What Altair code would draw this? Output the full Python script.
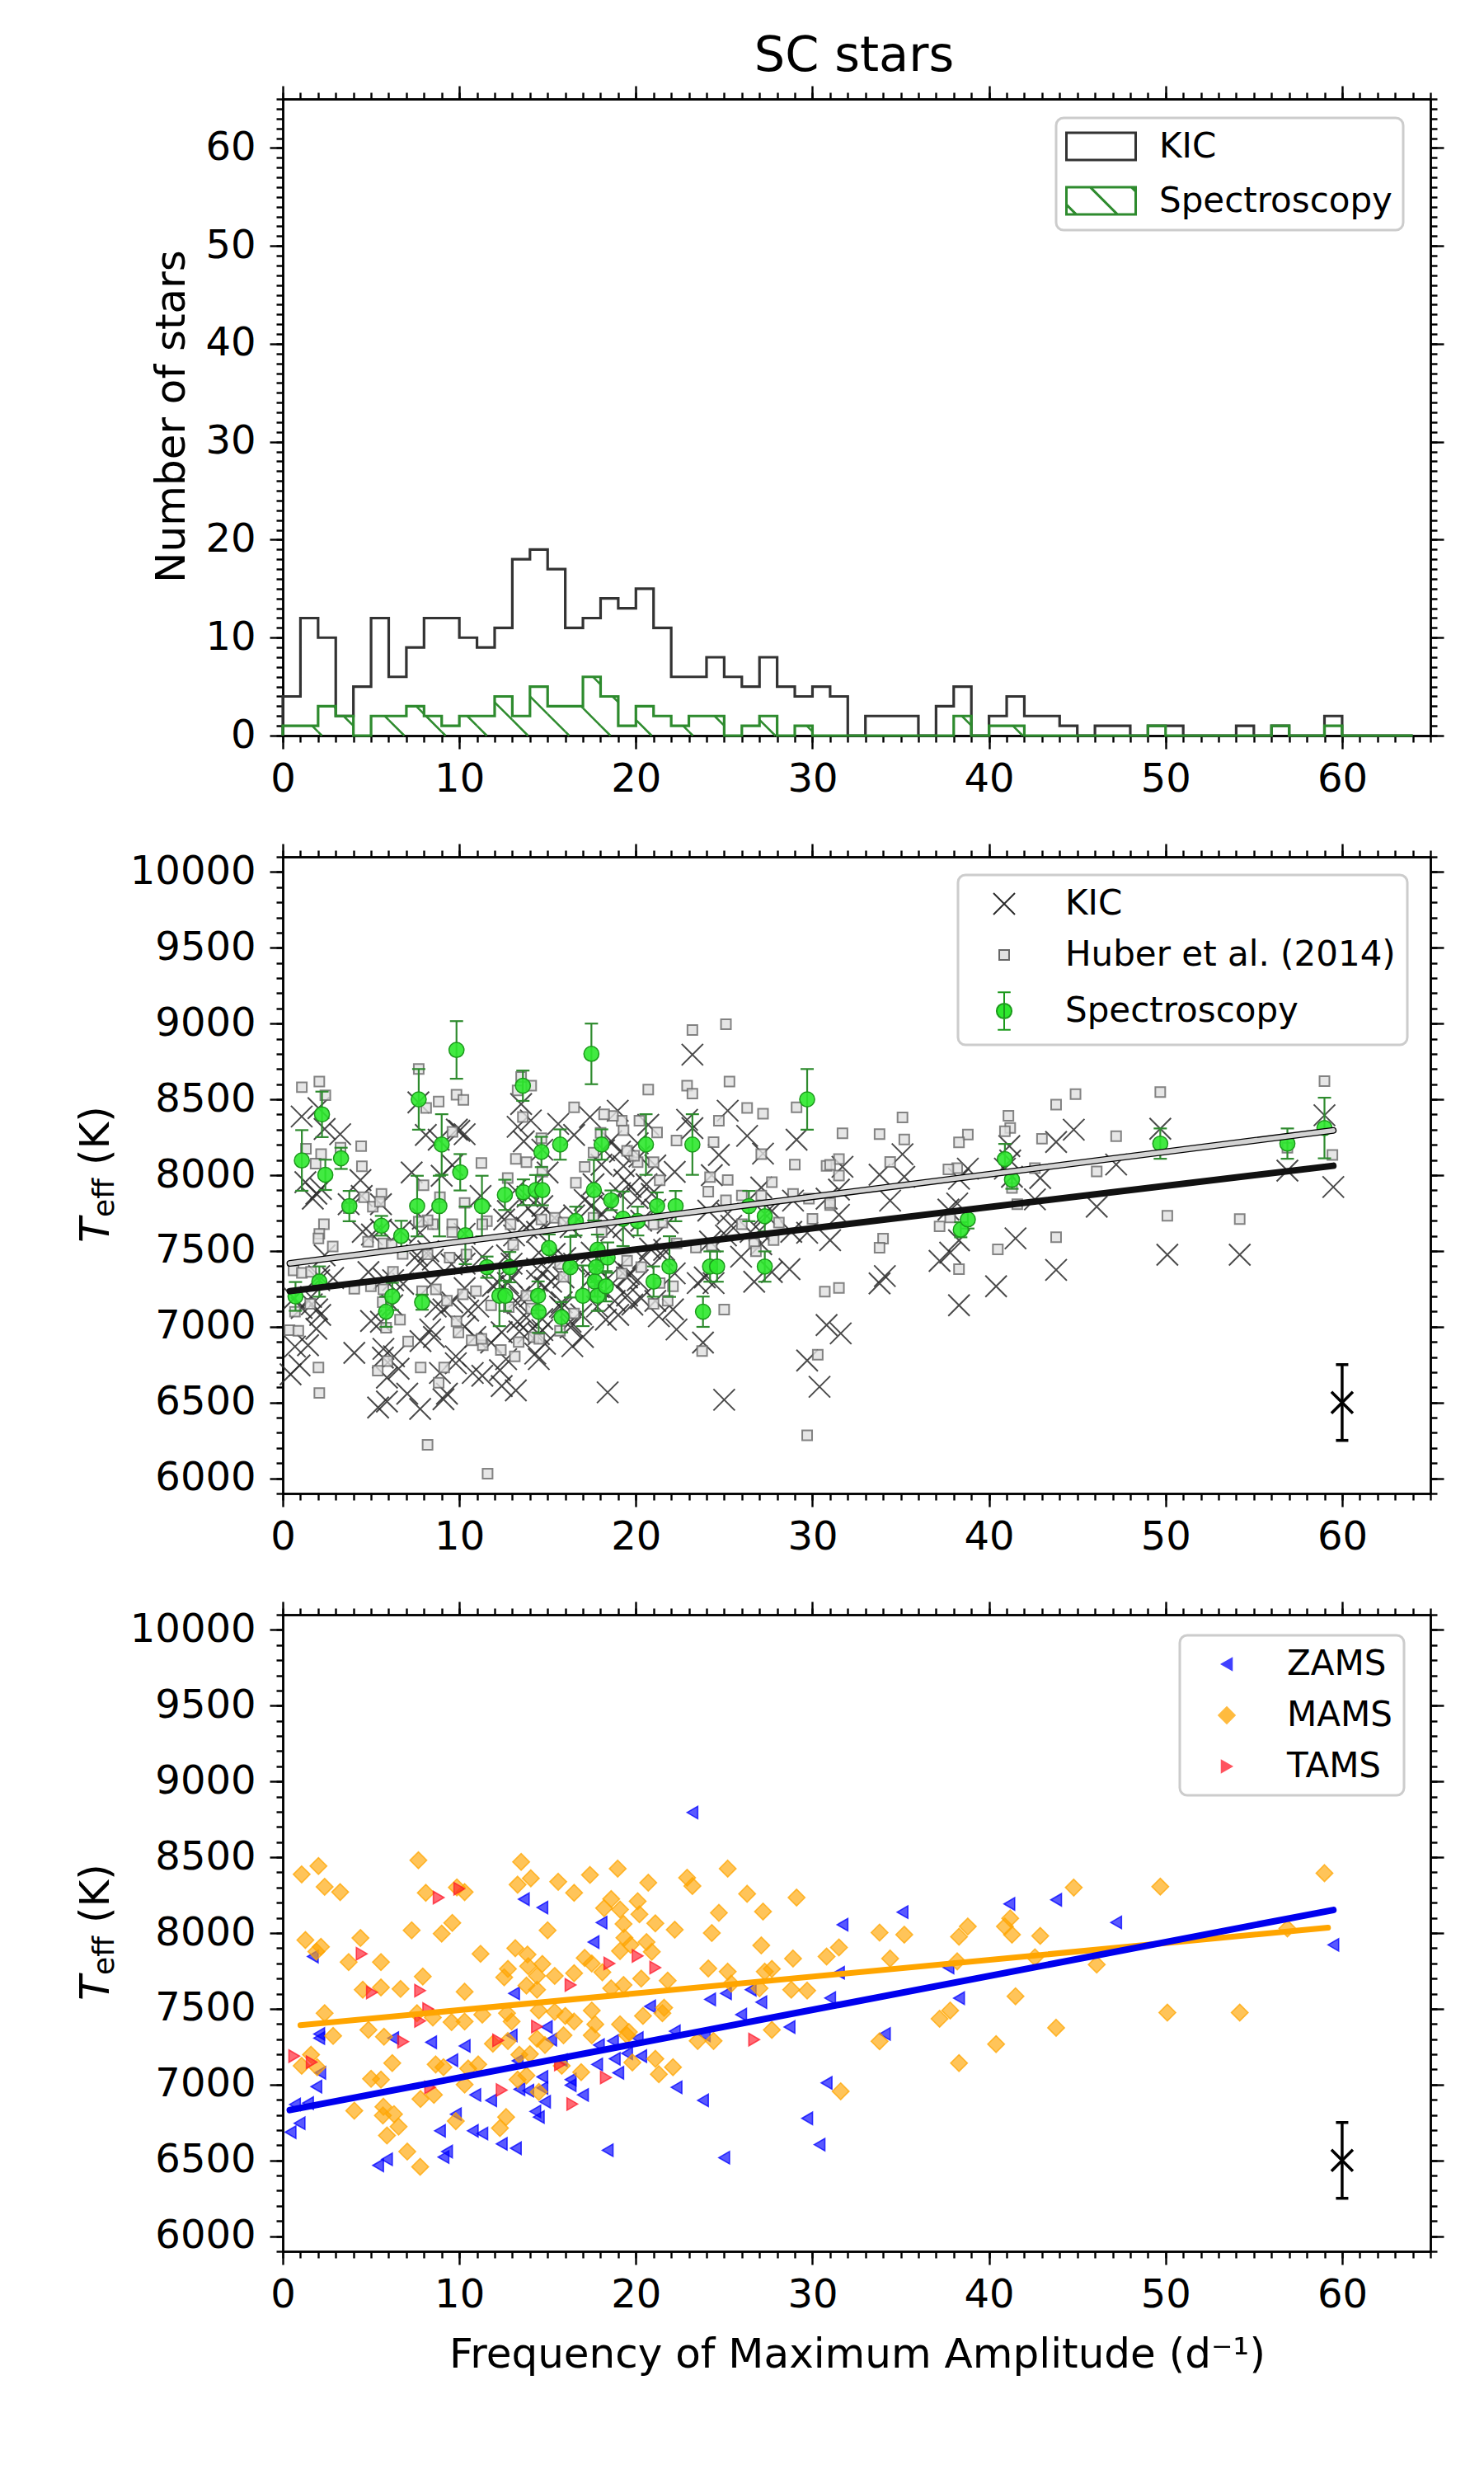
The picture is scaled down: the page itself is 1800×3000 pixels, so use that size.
import altair as alt
import pandas as pd

FONT = "DejaVu Sans"
W, H = 1392, 772
XDOM = [0, 65]
HDOM = [0, 65]
TDOM = [5900, 10100]

# ---------------- histogram (bins of width 1 from 0 to 64) ----------------
bin_start = list(range(64))
kic_counts = [4, 12, 10, 2, 5, 12, 6, 9, 12, 12,
              10, 9, 11, 18, 19, 17, 11, 12, 14, 13,
              15, 11, 6, 6, 8, 6, 5, 8, 5, 4,
              5, 4, 0, 2, 2, 2, 0, 3, 5, 0,
              2, 4, 2, 2, 1, 0, 1, 1, 0, 1,
              1, 0, 0, 0, 1, 0, 1, 0, 0, 2,
              0, 0, 0, 0]
spec_counts = [1, 1, 3, 2, 0, 2, 2, 3, 2, 1,
               2, 2, 4, 2, 5, 3, 3, 6, 4, 1,
               3, 2, 1, 2, 2, 0, 1, 2, 0, 1,
               0, 0, 0, 0, 0, 0, 0, 0, 2, 0,
               1, 1, 0, 0, 0, 0, 0, 0, 0, 1,
               0, 0, 0, 0, 0, 0, 1, 0, 0, 1,
               0, 0, 0, 0]

# ---------------- KIC stars split by evolutionary stage (freq, Teff) ----------------
zams_f = [23.2, 13.65, 14.7, 18.05, 17.6, 1.7, 31.7, 13.1, 20.8, 24.2, 25.1, 26.5, 27.1, 25.96, 28.7, 31.0,
          2.06, 2.06, 6.25, 8.4, 10.3, 12.96, 14.95, 15.2, 17.9, 18.7, 20.1, 22.2, 23.9, 9.6, 2.12, 1.9,
          0.69, 1.43, 0.95, 0.44, 13.3, 15.8, 17.8, 18.8, 19.5, 20.3, 19.0, 14.7, 16.3, 16.3, 17.0, 13.4,
          13.9, 14.7, 14.85, 10.9, 11.8, 22.3, 23.8, 30.8, 29.7, 30.4, 14.3, 14.5, 9.8, 8.9, 10.76, 11.3,
          12.4, 13.2, 9.3, 9.1, 5.4, 5.9, 18.4, 25.0,
          35.1, 41.15, 43.8, 47.2, 59.5, 37.7, 38.3, 34.1, 31.5]
zams_t = [8795, 8223, 8168, 8069, 7940, 7845, 8055, 7602, 7516, 7562, 7602, 7626, 7544, 7462, 7380, 7571,
          7334, 7307, 7307, 7279, 7255, 7325, 7380, 7297, 7261, 7288, 7307, 7352, 7325, 7161, 7078, 6987,
          6869, 6878, 6745, 6686, 7157, 7161, 7133, 7170, 7206, 7188, 7078, 7051, 7033, 6996, 6932, 6969,
          6960, 6978, 6887, 6932, 6896, 6982, 6896, 7011, 6777, 6604, 6823, 6786, 6805, 6695, 6695, 6677,
          6609, 6580, 6558, 6522, 6467, 6507, 6567, 6518,
          8138, 8192, 8219, 8070, 7922, 7773, 7570, 7334, 7738]

mams_f = [1.07, 2.02, 2.37, 3.25, 7.68, 8.1, 9.86, 10.3, 13.5, 13.3, 14.05, 15.6, 16.5, 17.4, 18.97, 20.7,
          22.9, 23.2, 25.2, 26.3, 29.1, 27.2, 24.7, 24.3, 22.2, 21.1, 20.2, 20.1, 18.6, 18.2, 19.1, 19.3,
          19.35, 20.6, 19.7, 19.1, 20.9, 15.0, 9.6, 9.0, 7.3, 4.4, 1.28, 2.16, 1.9, 3.73, 5.56, 7.93,
          11.2, 13.17, 13.86, 12.75, 12.54, 13.9, 14.7, 14.4, 15.4, 16.5, 17.1, 17.5, 18.1, 27.1, 28.9, 30.8,
          31.5, 24.1, 25.2, 27.3, 27.7, 21.8, 20.3, 19.3, 18.6, 27.0, 28.8, 29.7, 25.4, 4.53, 5.56, 6.67,
          10.3, 13.8, 14.4, 2.37, 4.85, 5.73, 2.85, 7.6, 8.5, 9.56, 10.3, 11.3, 12.7, 12.96, 14.5, 15.4,
          16.0, 16.5, 17.5, 17.7, 19.1, 19.6, 20.4, 21.5, 21.6, 27.7, 23.5, 24.4, 11.9, 12.75, 14.4, 14.85,
          15.9, 17.5, 19.5, 1.6, 1.07, 1.95, 6.2, 8.66, 9.1, 11.07, 10.5, 13.4, 14.0, 15.8, 16.9, 19.8,
          21.1, 22.1, 21.3, 5.0, 5.56, 10.3, 13.3, 13.8, 7.8, 8.56, 14.5, 31.6, 4.05, 5.7, 6.3, 5.67,
          6.56, 5.9, 12.65, 9.8, 12.3, 7.05, 7.78,
          59.0, 49.7, 44.8, 56.9, 41.2, 40.9, 41.3, 42.9, 38.8, 38.3, 38.2, 33.8, 35.2, 34.4, 42.6, 46.1,
          41.5, 37.8, 37.2, 33.8, 50.1, 54.2, 43.8, 40.4, 38.3]
mams_t = [8387, 8442, 8305, 8270, 8480, 8265, 8301, 8270, 8469, 8319, 8361, 8338, 8265, 8383, 8425, 8332,
          8365, 8310, 8425, 8259, 8234, 8142, 8133, 8000, 8022, 8064, 8124, 8210, 8224, 8164, 8155, 8060,
          7969, 7940, 7922, 7881, 7876, 8018, 8067, 7996, 8018, 7967, 7954, 7909, 7878, 7808, 7808, 7713,
          7863, 7900, 7858, 7763, 7708, 7781, 7796, 7717, 7717, 7735, 7836, 7799, 7741, 7918, 7832, 7845,
          7905, 7766, 7745, 7745, 7763, 7686, 7699, 7657, 7635, 7635, 7626, 7620, 7666, 7626, 7641, 7631,
          7613, 7653, 7626, 7471, 7361, 7316, 7321, 7471, 7443, 7412, 7416, 7462, 7471, 7416, 7489, 7480,
          7453, 7416, 7489, 7398, 7398, 7347, 7453, 7471, 7507, 7361, 7288, 7288, 7270, 7288, 7303, 7261,
          7325, 7325, 7325, 7197, 7124, 7115, 7142, 7133, 7115, 7133, 7106, 7197, 7201, 7124, 7082, 7146,
          7170, 7115, 7069, 7038, 7033, 7000, 7033, 7060, 6905, 6932, 6951, 6956, 6828, 6854, 6805, 6796,
          6723, 6664, 6786, 6759, 6713, 6558, 6458,
          8395, 8306, 8300, 8030, 8097, 8043, 7989, 7981, 8043, 7976, 7813, 8003, 7989, 7832, 7840, 7792,
          7583, 7489, 7434, 7286, 7475, 7475, 7375, 7267, 7142]

tams_f = [8.83, 10.0, 4.47, 5.05, 7.78, 8.24, 7.78, 6.82, 0.65, 1.64, 18.5, 20.1, 21.1, 16.3, 14.4, 12.2,
          15.7, 18.3, 12.4, 8.35, 16.4, 26.7]
tams_t = [8234, 8292, 7863, 7608, 7620, 7498, 7420, 7283, 7188, 7148, 7799, 7849, 7772, 7657, 7383, 7292,
          7133, 7047, 6964, 6982, 6872, 7297]

# ---------------- Huber et al. (2014) ----------------
huber_f = [1.08, 2.07, 2.41, 1.31, 2.17, 1.86, 3.27, 4.44, 4.48, 7.70, 8.83, 9.84, 10.23, 8.12, 9.61, 11.25,
           13.2, 13.6, 14.07, 13.5, 13.3, 16.5, 18.0, 17.6, 17.1, 14.65, 13.8, 14.7, 12.74, 16.6,
           7.97, 8.9, 10.3, 11.56, 11.3, 8.5, 8.2, 7.7, 9.6, 9.6, 10.4,
           4.6, 5.1, 5.59, 5.5, 3.74, 2.33, 2.07, 2.02, 2.83, 4.83, 5.7, 6.17, 6.79, 0.61, 1.08, 1.6, 1.55,
           0.69, 0.38, 0.88, 4.05, 4.99, 5.7, 6.24, 5.66, 6.64, 5.85, 7.89, 8.67, 9.3, 10.2, 10.94,
           7.1, 5.38, 5.93, 7.81, 8.83, 9.14, 9.84, 9.95, 10.7, 11.33, 12.35, 13.14,
           11.8, 12.8, 13.8, 14.07, 14.2, 14.53, 13.36, 15.7, 16.5, 15.9, 15.7,
           2.02, 2.07, 8.2, 11.25, 9.45, 8.2, 14.65, 15.4, 15.9, 17.6, 12.9, 13.05, 18.06, 17.6, 11.6,
           23.2, 25.1, 25.3, 22.9, 23.2, 20.7, 26.3, 27.2, 24.7, 29.1, 22.3, 24.4, 21.2, 20.2, 19.3, 19.2,
           18.7, 18.2, 27.1, 29.0, 30.8, 21.0, 21.35, 20.1, 19.9, 19.5, 24.2, 25.2, 27.7, 24.1, 25.1, 26.0,
           27.1, 28.9, 29.8, 31.0, 30.0, 28.1, 26.0, 27.8, 26.7, 26.8, 23.4, 24.3, 22.3, 21.5, 21.0, 19.5,
           20.3, 19.2, 21.35, 22.1, 21.8, 21.0, 30.7, 25.0, 23.75, 30.3, 29.7,
           59.0, 59.45, 56.9, 54.2, 50.1, 49.7, 47.2, 46.1, 44.9, 43.8, 43.0, 43.8, 42.6, 41.6, 41.3, 41.1,
           41.2, 40.9, 40.5, 38.8, 38.3, 38.2, 37.7, 37.8, 37.2, 38.3, 35.2, 35.1, 34.4, 33.8, 34.0, 33.8,
           31.7, 31.5, 31.5, 31.0, 31.5, 31.0]
huber_t = [8580, 8618, 8527, 8174, 8139, 8076, 8181, 8191, 8059, 8700, 8485, 8531, 8496, 8443, 8286, 8080,
           8107, 8384, 8590, 8647, 8559, 8447, 8279, 8149, 8055, 8244, 8086, 8023, 7981, 7950,
           7933, 7855, 7817, 7697, 7676, 7676, 7702, 7693, 7676, 7624, 7477,
           7855, 7792, 7876, 7824, 7782, 7676, 7613, 7582, 7529, 7561, 7550, 7540, 7481, 7372, 7355, 7362, 7151,
           7099, 6977, 6973, 7250, 7267, 7246, 7362, 7162, 7046, 6994, 7235, 7246, 7172, 7214, 7235,
           6903, 6710, 6773, 6731, 6630, 6731, 7036, 6962, 6910, 6878, 6847, 6805,
           7141, 7130, 7204, 7120, 6931, 6920, 6899, 6973, 7088, 7330, 7414,
           6731, 6563, 6221, 6920, 7456, 7477, 7708, 7718, 7687, 7718, 7676, 7540, 7624, 7235, 6030,
           8958, 8996, 8618, 8590, 8538, 8565, 8443, 8405, 8359, 8447, 8229, 8218, 8282, 8359, 8296, 8359,
           8391, 8401, 8139, 8069, 8061, 8086, 7966, 8086, 8128, 8160, 7987, 7968, 7954, 7891, 7834, 7866,
           7866, 7876, 7845, 7803, 7712, 7687, 7676, 7571, 7550, 7498, 7523, 7536, 7550, 7687, 7676, 7435,
           7393, 7351, 7288, 7267, 7172, 7151, 7231, 7113, 6840, 6815, 6284,
           8620, 8133, 8181, 7710, 7732, 8548, 8257, 8024, 8535, 8465, 8240, 7591, 8046, 7808, 7916, 8392,
           8311, 8290, 7510, 8268, 8216, 8046, 8038, 7721, 7662, 7380, 8235, 8381, 8087, 8271, 7581, 7521,
           8276, 8106, 7997, 7816, 7256, 8068]

# ---------------- Spectroscopy (freq, Teff, error) ----------------
spec_f = [1.08, 2.22, 2.41, 3.30, 3.77, 5.59, 6.71, 7.70, 7.61, 9.0, 8.87, 9.84, 10.05, 10.34, 11.28, 12.58,
          13.60, 13.63, 14.33, 14.7, 14.65, 15.71, 17.48, 17.62, 18.06, 16.6, 15.08, 16.29, 17.83, 17.75,
          17.67, 17.83, 17.0, 15.79, 14.46, 14.49, 12.27, 12.6, 12.85, 11.56, 7.89, 6.2, 5.85, 2.07, 0.72,
          18.3, 18.4, 18.6, 19.27, 20.1, 20.57, 21.2, 22.25, 21.9, 21.0, 23.2, 23.8, 24.2, 24.6, 26.4, 27.3,
          27.3, 29.7, 38.4, 38.8, 40.9, 41.3, 49.7, 56.9, 59.0]
spec_t = [8097, 8401, 8002, 8111, 7796, 7666, 7599, 8500, 7796, 8202, 7796, 8826, 8019, 7603, 7796, 7870,
          8590, 7887, 7901, 7901, 8153, 8202, 8800, 7901, 8202, 7697, 7519, 7393, 7508, 7393,
          7298, 7204, 7204, 7063, 7204, 7099, 7204, 7204, 7393, 7393, 7162, 7200, 7099, 7298, 7200,
          7267, 7456, 7834, 7712, 7697, 8202, 7796, 7796, 7397, 7298, 8202, 7099, 7397, 7397, 7796, 7729,
          7397, 8500, 7640, 7708, 8106, 7970, 8208, 8208, 8311]
spec_e = [200, 150, 100, 70, 100, 65, 100, 200, 200, 200, 200, 190, 120, 190, 200, 100,
          100, 85, 100, 100, 100, 100, 200, 200, 100, 95, 90, 200, 100, 100,
          100, 100, 200, 100, 95, 140, 200, 100, 100, 70, 50, 90, 100, 100, 95,
          100, 100, 65, 180, 95, 200, 90, 100, 200, 100, 200, 100, 100, 100, 100, 100,
          100, 200, 50, 60, 100, 60, 100, 100, 200]

# ---------------- linear fits (end points) ----------------
fit_mid_f = [0.4, 59.5]
fit_kic_t = [7235, 8062]
fit_huber_t = [7418, 8295]
fit_zams_f = [0.4, 59.5]
fit_zams_t = [6832, 8152]
fit_mams_f = [1.0, 59.2]
fit_mams_t = [7392, 8035]

# typical uncertainty marker
ref_f = [60]
ref_t = [6500]
ref_e = [250]

# ---------------- styles ----------------
X_PATH = "M -1 -1 L 1 1 M -1 1 L 1 -1"
SQ_PATH = "M -0.46 -0.46 L 0.46 -0.46 L 0.46 0.46 L -0.46 0.46 Z"
CIRC_PATH = "M -0.7 0 A 0.7 0.7 0 1 1 0.7 0 A 0.7 0.7 0 1 1 -0.7 0 Z"
CIRC_ERR_PATH = ("M 0 -1.75 L 0 1.75 M -0.6 -1.75 L 0.6 -1.75 M -0.6 1.75 L 0.6 1.75 "
                 "M -0.7 0 A 0.7 0.7 0 1 1 0.7 0 A 0.7 0.7 0 1 1 -0.7 0 Z")
TRI_L = "M -0.5 0 L 0.5 -0.58 L 0.5 0.58 Z"
TRI_R = "M 0.5 0 L -0.5 -0.58 L -0.5 0.58 Z"
DIAM = "M 0 -0.78 L 0.78 0 L 0 0.78 L -0.78 0 Z"
RECT_PATCH = "M -2.1 -0.82 L 2.1 -0.82 L 2.1 0.82 L -2.1 0.82 Z"
HATCH_PATCH = RECT_PATCH + " M -0.65 -0.82 L 0.99 0.82 M 1.85 -0.82 L 2.1 -0.57 M -2.1 0.23 L -1.51 0.82"

KIC_COL = "#2a2a2a"
SPEC_EDGE = "#2e8b2e"
SIZE = 676
TICK_FS = 48
TITLE_FS = 50
LEG_FS = 42

legend_props = set(alt.Legend._rootschema["definitions"]["Legend"]["properties"].keys())


def legend(x, y, pad, soff, loff, rowpad, ssize, sw, extra=None):
    kw = dict(title=None, orient="none", legendX=x, legendY=y, padding=pad,
              symbolOffset=soff, labelOffset=loff, rowPadding=rowpad, symbolSize=ssize,
              symbolStrokeWidth=sw, labelFontSize=LEG_FS, labelFont=FONT, labelColor="black",
              labelLimit=1000, strokeColor="#cccccc", cornerRadius=9, fillColor="white")
    if extra:
        kw.update(extra)
    return alt.Legend(**{k: v for k, v in kw.items() if k in legend_props})


def xsc():
    return alt.Scale(domain=XDOM, nice=False, zero=False)


def ysc(dom):
    return alt.Scale(domain=dom, nice=False, zero=False)


AX = dict(tickColor="black", tickWidth=2.4, domainColor="black", domainWidth=2.5, grid=False,
          title=None, labelFont=FONT, labelFontSize=TICK_FS, labelColor="black", labelFlush=False,
          labelOverlap=False)


def frame_layers(ydom, ymaj, ymin):
    d = pd.DataFrame({"ax": [XDOM[0]], "ay": [ydom[0]]})
    xmaj = list(range(0, 61, 10))
    xmin = list(range(0, 66, 1))
    out = []
    for ox, oy, xv, yv, ts, lab in [("bottom", "left", xmaj, ymaj, 16, True),
                                    ("bottom", "left", xmin, ymin, 8, False),
                                    ("top", "right", xmaj, ymaj, 16, False),
                                    ("top", "right", xmin, ymin, 8, False)]:
        xa = alt.Axis(orient=ox, values=xv, tickSize=ts, labels=lab, labelPadding=13, **AX)
        ya = alt.Axis(orient=oy, values=yv, tickSize=ts, labels=lab, labelPadding=17, format="d", **AX)
        out.append(alt.Chart(d).mark_point(opacity=0).encode(
            x=alt.X("ax:Q", scale=xsc(), axis=xa),
            y=alt.Y("ay:Q", scale=ysc(ydom), axis=ya)))
    return out


def text(s, x, y, size, angle=0, align="center", style="normal"):
    return alt.Chart(pd.DataFrame({"t": [s]})).mark_text(
        font=FONT, fontSize=size, angle=angle, align=align, baseline="middle",
        fontStyle=style, color="black").encode(text="t:N", x=alt.value(x), y=alt.value(y))


def teff_title():
    return [text("T", -226, 468, TITLE_FS, angle=270, align="left", style="italic"),
            text("eff", -216, 437, 36, angle=270, align="left"),
            text("(K)", -226, 374, TITLE_FS, angle=270, align="left")]


# ================= panel 1: histogram =================
def step_df(counts):
    xs = [0] + bin_start + [64]
    ys = [0] + counts + [0]
    return pd.DataFrame({"x": xs, "y": ys, "o": list(range(len(xs)))})


hist_layers = []
for counts, col in [(kic_counts, "#333333"), (spec_counts, SPEC_EDGE)]:
    hist_layers.append(alt.Chart(step_df(counts)).mark_line(
        interpolate="step-after", color=col, strokeWidth=3.2).encode(
        x=alt.X("x:Q", scale=xsc(), axis=None),
        y=alt.Y("y:Q", scale=ysc(HDOM), axis=None),
        order="o:Q"))

# hatch ("\\") of the spectroscopy histogram, clipped to each bin
R = (H / (HDOM[1] - HDOM[0])) / (W / (XDOM[1] - XDOM[0]))
STEP = 50 / (W / (XDOM[1] - XDOM[0]))
segs = []
c = -0.12
while c < XDOM[1] + R * 10:
    for i, h in zip(bin_start, spec_counts):
        if h <= 0:
            continue
        a = max(i, c - R * h)
        b = min(i + 1, c)
        if a < b:
            segs.append({"x": a, "y": (c - a) / R, "x2": b, "y2": (c - b) / R})
    c += STEP
hatch = alt.Chart(pd.DataFrame(segs)).mark_rule(color=SPEC_EDGE, strokeWidth=2.5).encode(
    x=alt.X("x:Q", scale=xsc(), axis=None), x2="x2:Q",
    y=alt.Y("y:Q", scale=ysc(HDOM), axis=None), y2="y2:Q")

HIST_SER = ["KIC", "Spectroscopy"]
leg_h = legend(938, 23, 13, 20, 49, 21, 1600, 3, {"symbolFillColor": "transparent"})
hist_leg = alt.Chart(pd.DataFrame({"series": HIST_SER, "lx": [None, None], "ly": [None, None]})).mark_point(
    size=1600, strokeWidth=3, filled=False, opacity=1).encode(
    x=alt.X("lx:Q", scale=xsc(), axis=None),
    y=alt.Y("ly:Q", scale=ysc(HDOM), axis=None),
    shape=alt.Shape("series:N", scale=alt.Scale(domain=HIST_SER, range=[RECT_PATCH, HATCH_PATCH]), legend=leg_h),
    stroke=alt.Stroke("series:N", scale=alt.Scale(domain=HIST_SER, range=["#333333", SPEC_EDGE]), legend=leg_h))

p1 = alt.layer(*hist_layers, hatch, hist_leg,
               *frame_layers(HDOM, list(range(0, 61, 10)), list(range(0, 66, 1))),
               text("Number of stars", -134, 385, TITLE_FS, angle=270),
               text("SC stars", 693, -52, 59)).resolve_axis(
    x="independent", y="independent").properties(width=W, height=H)

# ================= panel 2: Teff vs frequency =================
MID_SER = ["KIC", "Huber et al. (2014)", "Spectroscopy"]
leg_m = legend(819, 22, 14, 21, 53, 20, SIZE, 2, {"symbolOpacity": 1})
shape_m = alt.Shape("series:N", scale=alt.Scale(domain=MID_SER, range=[X_PATH, SQ_PATH, CIRC_ERR_PATH]), legend=leg_m)
fill_m = alt.Fill("series:N", scale=alt.Scale(domain=MID_SER, range=["transparent", "#e0e0e0", "#2ee82e"]), legend=leg_m)
stroke_m = alt.Stroke("series:N", scale=alt.Scale(domain=MID_SER, range=[KIC_COL, "#666666", "#1c991c"]), legend=leg_m)

kic_f = zams_f + mams_f + tams_f
kic_t = zams_t + mams_t + tams_t
df_kic = pd.DataFrame({"f": kic_f, "t": kic_t, "series": "KIC"})
df_hub = pd.DataFrame({"f": huber_f, "t": huber_t, "series": "Huber et al. (2014)"})
df_spec = pd.DataFrame({"f": spec_f, "t": spec_t, "lo": [t - e for t, e in zip(spec_t, spec_e)],
                        "hi": [t + e for t, e in zip(spec_t, spec_e)], "series": "Spectroscopy"})

XE = dict(scale=xsc(), axis=None)
YE = dict(scale=ysc(TDOM), axis=None)

kic_layer = alt.Chart(df_kic).mark_point(size=SIZE, strokeWidth=2, opacity=1, strokeOpacity=0.85).encode(
    x=alt.X("f:Q", **XE), y=alt.Y("t:Q", **YE), shape=shape_m, fill=fill_m, stroke=stroke_m)
hub_layer = alt.Chart(df_hub).mark_point(size=SIZE, strokeWidth=2, opacity=1, fillOpacity=0.8,
                                         strokeOpacity=0.8).encode(
    x=alt.X("f:Q", **XE), y=alt.Y("t:Q", **YE), shape=shape_m, fill=fill_m, stroke=stroke_m)
spec_err = alt.Chart(df_spec).mark_rule(color=SPEC_EDGE, strokeWidth=2.2).encode(
    x=alt.X("f:Q", **XE), y=alt.Y("lo:Q", **YE), y2="hi:Q")
spec_cap_hi = alt.Chart(df_spec).mark_tick(orient="horizontal", size=16, thickness=2.2, color=SPEC_EDGE,
                                           opacity=1).encode(
    x=alt.X("f:Q", **XE), y=alt.Y("hi:Q", **YE))
spec_cap_lo = alt.Chart(df_spec).mark_tick(orient="horizontal", size=16, thickness=2.2, color=SPEC_EDGE,
                                           opacity=1).encode(
    x=alt.X("f:Q", **XE), y=alt.Y("lo:Q", **YE))
spec_pts = alt.Chart(df_spec).mark_point(shape=CIRC_PATH, size=SIZE, strokeWidth=1.5, opacity=1,
                                         fillOpacity=0.9).encode(
    x=alt.X("f:Q", **XE), y=alt.Y("t:Q", **YE), fill=fill_m, stroke=stroke_m)


def fit_line(fx, ft, color, width):
    return alt.Chart(pd.DataFrame({"f": fx, "t": ft})).mark_line(
        color=color, strokeWidth=width, strokeCap="round").encode(
        x=alt.X("f:Q", **XE), y=alt.Y("t:Q", **YE))


def ref_marker():
    d = pd.DataFrame({"f": ref_f, "t": ref_t, "lo": [t - e for t, e in zip(ref_t, ref_e)],
                      "hi": [t + e for t, e in zip(ref_t, ref_e)]})
    return [alt.Chart(d).mark_rule(color="black", strokeWidth=3.5).encode(
                x=alt.X("f:Q", **XE), y=alt.Y("lo:Q", **YE), y2="hi:Q"),
            alt.Chart(d).mark_tick(orient="horizontal", size=15, thickness=3.5, color="black", opacity=1).encode(
                x=alt.X("f:Q", **XE), y=alt.Y("hi:Q", **YE)),
            alt.Chart(d).mark_tick(orient="horizontal", size=15, thickness=3.5, color="black", opacity=1).encode(
                x=alt.X("f:Q", **XE), y=alt.Y("lo:Q", **YE)),
            alt.Chart(d).mark_point(shape=X_PATH, size=SIZE, strokeWidth=3.5, color="black", opacity=1).encode(
                x=alt.X("f:Q", **XE), y=alt.Y("t:Q", **YE))]


TMAJ = list(range(6000, 10001, 500))
TMIN = list(range(5900, 10101, 100))

p2 = alt.layer(kic_layer, hub_layer, spec_err, spec_cap_hi, spec_cap_lo, spec_pts,
               fit_line(fit_mid_f, fit_kic_t, "#111111", 8),
               fit_line(fit_mid_f, fit_huber_t, "black", 8),
               fit_line(fit_mid_f, fit_huber_t, "#d3d3d3", 5.5),
               *ref_marker(),
               *frame_layers(TDOM, TMAJ, TMIN),
               *teff_title()).resolve_axis(
    x="independent", y="independent").properties(width=W, height=H)

# ================= panel 3: by evolutionary stage =================
CLS = ["ZAMS", "MAMS", "TAMS"]
leg_b = legend(1088, 25, 14, 22, 52, 20, SIZE, 1.5, {"symbolOpacity": 0.75})
df_cls = pd.DataFrame({"f": zams_f + mams_f + tams_f, "t": zams_t + mams_t + tams_t,
                       "cls": ["ZAMS"] * len(zams_f) + ["MAMS"] * len(mams_f) + ["TAMS"] * len(tams_f)})
cls_layer = alt.Chart(df_cls).mark_point(size=SIZE, strokeWidth=1.6, opacity=1, fillOpacity=0.65,
                                         strokeOpacity=0.75).encode(
    x=alt.X("f:Q", **XE), y=alt.Y("t:Q", **YE),
    shape=alt.Shape("cls:N", scale=alt.Scale(domain=CLS, range=[TRI_L, DIAM, TRI_R]), legend=leg_b),
    fill=alt.Fill("cls:N", scale=alt.Scale(domain=CLS, range=["#0000ff", "#ffa500", "#ff1a2a"]), legend=leg_b),
    stroke=alt.Stroke("cls:N", scale=alt.Scale(domain=CLS, range=["#0000ff", "#ffa500", "#ff1a2a"]), legend=leg_b))

p3 = alt.layer(cls_layer,
               fit_line(fit_mams_f, fit_mams_t, "#ffa500", 7),
               fit_line(fit_zams_f, fit_zams_t, "#0000ee", 8),
               *ref_marker(),
               *frame_layers(TDOM, TMAJ, TMIN),
               *teff_title(),
               text("Frequency of Maximum Amplitude (d\u207b\u00b9)", 697, 898, TITLE_FS)).resolve_axis(
    x="independent", y="independent").properties(width=W, height=H)

chart = alt.vconcat(p1, p2, p3, spacing=147, bounds="flush").resolve_scale(
    shape="independent", fill="independent", stroke="independent"
).resolve_legend(
    shape="independent", fill="independent", stroke="independent"
).properties(
    padding={"left": 83, "top": 30, "right": 5, "bottom": 5}
).configure(font=FONT).configure_view(stroke="transparent")

cfg_props = alt.LegendConfig._rootschema["definitions"]["LegendConfig"]["properties"]
if "strokeWidth" in cfg_props:
    chart = chart.configure_legend(strokeWidth=3)

chart.save("out.html", embed_options={"renderer": "svg", "actions": False})
